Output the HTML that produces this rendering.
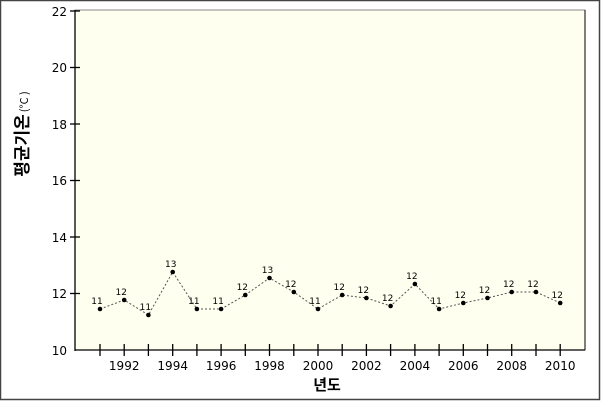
<!DOCTYPE html><html><head><style>body{margin:0}svg{display:block}</style></head><body>
<svg width="601" height="401" xmlns="http://www.w3.org/2000/svg" font-family="'DejaVu Sans',sans-serif">
<rect x="0" y="0" width="601" height="401" fill="#fff"/>
<rect x="0.5" y="0.5" width="599" height="399" fill="none" stroke="#444" stroke-width="1.5"/>
<rect x="75" y="10" width="510" height="340" fill="#fffff0" stroke="#888" stroke-width="1"/>
<line x1="585" y1="10" x2="585" y2="350" stroke="#000"/>
<line x1="75" y1="10" x2="75" y2="351" stroke="#000" stroke-width="1.3"/>
<line x1="75" y1="350" x2="585" y2="350" stroke="#000" stroke-width="1.3"/>
<g stroke="#000" stroke-width="1.3">
<line x1="70" y1="11" x2="80" y2="11"/><line x1="70" y1="67.5" x2="80" y2="67.5"/><line x1="70" y1="124" x2="80" y2="124"/><line x1="70" y1="180.5" x2="80" y2="180.5"/><line x1="70" y1="237" x2="80" y2="237"/><line x1="70" y1="293.5" x2="80" y2="293.5"/>
<line x1="100" y1="344" x2="100" y2="356"/><line x1="124.2" y1="344" x2="124.2" y2="356"/><line x1="148.4" y1="344" x2="148.4" y2="356"/><line x1="172.7" y1="344" x2="172.7" y2="356"/><line x1="196.9" y1="344" x2="196.9" y2="356"/><line x1="221.1" y1="344" x2="221.1" y2="356"/><line x1="245.3" y1="344" x2="245.3" y2="356"/><line x1="269.5" y1="344" x2="269.5" y2="356"/><line x1="293.8" y1="344" x2="293.8" y2="356"/><line x1="318" y1="344" x2="318" y2="356"/><line x1="342.2" y1="344" x2="342.2" y2="356"/><line x1="366.4" y1="344" x2="366.4" y2="356"/><line x1="390.6" y1="344" x2="390.6" y2="356"/><line x1="414.9" y1="344" x2="414.9" y2="356"/><line x1="439.1" y1="344" x2="439.1" y2="356"/><line x1="463.3" y1="344" x2="463.3" y2="356"/><line x1="487.5" y1="344" x2="487.5" y2="356"/><line x1="511.7" y1="344" x2="511.7" y2="356"/><line x1="536" y1="344" x2="536" y2="356"/><line x1="560.2" y1="344" x2="560.2" y2="356"/>
</g>
<g font-size="12" text-anchor="end" fill="#000">
<text x="67" y="16">22</text><text x="67" y="72">20</text><text x="67" y="129">18</text><text x="67" y="185">16</text><text x="67" y="242">14</text><text x="67" y="298">12</text><text x="67" y="355">10</text>
</g>
<g font-size="12" text-anchor="middle">
<text x="124.2" y="370">1992</text><text x="172.7" y="370">1994</text><text x="221.1" y="370">1996</text><text x="269.5" y="370">1998</text><text x="318" y="370">2000</text><text x="366.4" y="370">2002</text><text x="414.9" y="370">2004</text><text x="463.3" y="370">2006</text><text x="511.7" y="370">2008</text><text x="560.2" y="370">2010</text>
</g>
<text x="327" y="390" font-size="15" font-weight="bold" text-anchor="middle" font-family="'Noto Sans CJK KR',sans-serif">년도</text>
<text transform="translate(28,134) rotate(-90)" text-anchor="middle" font-family="'Noto Sans CJK KR',sans-serif"><tspan font-size="17" font-weight="bold">평균기온</tspan><tspan font-size="11" dx="2">(°C )</tspan></text>
<path d="M100 309L124.2 300L148.4 315L172.7 272L196.9 309L221.1 309L245.3 295L269.5 278L293.8 292L318 309L342.2 295L366.4 298L390.6 306L414.9 284L439.1 309L463.3 303L487.5 298L511.7 292L536 292L560.2 303" fill="none" stroke="#555" stroke-width="1" stroke-dasharray="2,2"/>
<g fill="#000"><circle cx="100" cy="309" r="2.3"/><circle cx="124.2" cy="300" r="2.3"/><circle cx="148.4" cy="315" r="2.3"/><circle cx="172.7" cy="272" r="2.3"/><circle cx="196.9" cy="309" r="2.3"/><circle cx="221.1" cy="309" r="2.3"/><circle cx="245.3" cy="295" r="2.3"/><circle cx="269.5" cy="278" r="2.3"/><circle cx="293.8" cy="292" r="2.3"/><circle cx="318" cy="309" r="2.3"/><circle cx="342.2" cy="295" r="2.3"/><circle cx="366.4" cy="298" r="2.3"/><circle cx="390.6" cy="306" r="2.3"/><circle cx="414.9" cy="284" r="2.3"/><circle cx="439.1" cy="309" r="2.3"/><circle cx="463.3" cy="303" r="2.3"/><circle cx="487.5" cy="298" r="2.3"/><circle cx="511.7" cy="292" r="2.3"/><circle cx="536" cy="292" r="2.3"/><circle cx="560.2" cy="303" r="2.3"/></g>
<g font-size="9" text-anchor="middle">
<text x="97" y="304">11</text><text x="121.2" y="295">12</text><text x="145.4" y="310">11</text><text x="170.7" y="267">13</text><text x="193.9" y="304">11</text><text x="218.1" y="304">11</text><text x="242.3" y="290">12</text><text x="267.5" y="273">13</text><text x="290.8" y="287">12</text><text x="315" y="304">11</text><text x="339.2" y="290">12</text><text x="363.4" y="293">12</text><text x="387.6" y="301">12</text><text x="411.9" y="279">12</text><text x="436.1" y="304">11</text><text x="460.3" y="298">12</text><text x="484.5" y="293">12</text><text x="508.7" y="287">12</text><text x="533" y="287">12</text><text x="557.2" y="298">12</text>
</g>
</svg></body></html>
